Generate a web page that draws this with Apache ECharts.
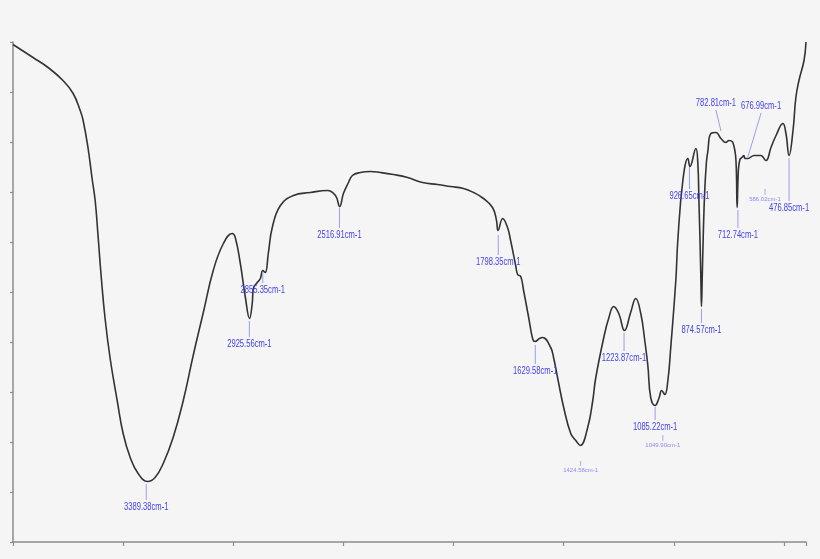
<!DOCTYPE html>
<html>
<head>
<meta charset="utf-8">
<script src="https://cdn.jsdelivr.net/npm/echarts@6/dist/echarts.min.js"></script>
<style>
html,body{margin:0;padding:0;background:#f5f5f5;}
#chart{width:820px;height:559px;}
</style>
</head>
<body>
<div id="chart"></div>
<script>
// Wavenumbers (cm-1) and transmittance (%)
var wavenumbers = [4000,3909,3841,3773,3727,3695,3682,3659,3641,3627,3614,3600,3582,3559,3527,3500,3468,3432,3389,3355,3318,3273,3227,3182,3136,3091,3045,3005,2991,2968,2945,2926,2914,2909,2891,2877,2866,2855,2841,2823,2786,2727,2650,2573,2536,2517,2500,2477,2459,2423,2377,2332,2273,2209,2141,2073,2014,1955,1909,1864,1823,1805,1798,1777,1755,1741,1718,1709,1695,1682,1659,1640,1630,1610,1596,1559,1545,1527,1500,1468,1445,1425,1391,1368,1355,1318,1296,1273,1250,1224,1196,1173,1150,1132,1118,1105,1085,1068,1055,1041,1027,1014,991,982,959,936,927,900,891,886,881,877,874.6,871,866,860,852,846,832,809,786,764,750,732,718,712.7,707,700,691,682,677,664,636,605,582,559,536,505,491,477,459,446,432,409,400];
var transmittance = [99.5,96.9,94.9,92.3,89.7,86.3,84.4,78.7,72.7,68.3,61.3,53.3,44.7,36.7,28.3,21.7,16.9,13.7,12.1,12.9,15.7,20.9,28.3,37.3,45.9,54.3,59.7,61.7,60.9,55.7,48.9,44.7,47.7,50.7,51.9,52.7,54.3,53.9,57.7,62.9,67.3,69.3,69.9,70.3,69.3,67.1,69.7,71.9,73.3,73.9,74.1,73.9,73.5,72.9,71.9,71.5,71.1,70.7,69.9,68.7,66.9,64.3,62.3,64.7,62.9,60.3,55.3,53.5,53.1,50.3,44.9,40.5,40.1,40.7,40.9,38.9,36.7,32.7,26.9,21.7,20.3,19.3,22.9,28.3,32.7,40.9,44.7,47.1,45.7,42.3,45.9,48.7,45.7,40.3,35.3,28.9,27.3,28.7,30.3,29.5,32.3,38.9,52.3,60.3,72.3,76.7,75.1,78.7,75.7,68,60,52,47.1,53,62,70,76,78,81.7,81.9,80.7,79.9,80.3,79.9,76.3,66.9,74.3,76.5,76.9,77.3,76.7,76.7,77.3,77.3,76.3,78.9,81.3,83.7,81.7,77.3,82.3,88.9,92.3,96.3,100];

// Peak annotations: label text, leader tip (wavenumber, %T) and label anchor (wavenumber, %T)
var peakLabels = ["3389.38cm-1","2925.56cm-1","2855.35cm-1","2516.91cm-1","1798.35cm-1","1629.58cm-1","1223.87cm-1","1085.22cm-1","926.65cm-1","874.57cm-1","712.74cm-1","782.81cm-1","676.99cm-1","476.85cm-1"];
var peakTipWn = [3395,2927,2866,2518,1797,1629,1226,1085,929,874.6,709,786,664,477];
var peakTipT = [11.6,44.2,54.0,66.8,61.4,39.4,41.8,27.0,75.0,46.6,66.4,82.2,77.0,76.8];
var labelWn = [3395,2927,2866,2518,1797,1629,1226,1085,929,874.6,709,809,604,477];
var labelT = [7.0,39.6,50.4,61.4,56.0,34.2,36.8,23.0,69.2,42.4,61.4,87.8,87.2,66.8];

// Faint secondary annotations
var faintLabels = ["1424.58cm-1","1049.90cm-1","586.02cm-1"];
var faintTipWn = [1423,1050,586];
var faintTipT = [16.2,21.4,70.6];
var faintLabelWn = [1423,1050,586];
var faintLabelT = [14.4,19.4,68.6];

// X-axis tick positions
var xTicks = [4000,3500,3000,2500,2000,1500,1000,500,400];

var spectrum = wavenumbers.map(function(w,i){return [w, transmittance[i]];});
var ann = peakLabels.map(function(t,i){return [peakTipWn[i],peakTipT[i],labelWn[i],labelT[i],t];});
var faint = faintLabels.map(function(t,i){return [faintTipWn[i],faintTipT[i],faintLabelWn[i],faintLabelT[i],t];});

function makeRender(fontSize, textColor, lineColor, scaleX){
  return function(params, api){
    var tip = api.coord([api.value(0), api.value(1)]);
    var lab = api.coord([api.value(2), api.value(3)]);
    var text = api.value(4);
    var gap = fontSize*0.7;
    var endY = lab[1] > tip[1] ? lab[1]-gap : lab[1]+gap;
    return {
      type:'group',
      children:[
        {type:'line', shape:{x1:tip[0],y1:tip[1],x2:lab[0],y2:endY}, style:{stroke:lineColor,lineWidth:1}},
        {type:'text', x:lab[0], y:lab[1], scaleX:scaleX, scaleY:1,
          style:{text:text, fill:textColor, font: fontSize+'px "Liberation Sans", Arial, sans-serif', align:'center', verticalAlign:'middle'}}
      ]
    };
  };
}

var chart = echarts.init(document.getElementById('chart'), null, {renderer:'canvas'});
chart.setOption({
  backgroundColor:'#f5f5f5',
  animation:false,
  grid:{left:13, right:14, top:42, bottom:17, containLabel:false},
  xAxis:{
    type:'value', inverse:true, min:400, max:4000,
    axisLine:{show:true, onZero:false, lineStyle:{color:'#8c8c8c', width:1.5}},
    axisTick:{show:true, length:4, customValues:xTicks, lineStyle:{color:'#8c8c8c', width:1.2}},
    axisLabel:{show:false},
    splitLine:{show:false}
  },
  yAxis:{
    type:'value', min:0, max:100, interval:10,
    axisLine:{show:true, onZero:false, lineStyle:{color:'#8c8c8c', width:1.5}},
    axisTick:{show:true, length:3, lineStyle:{color:'#8c8c8c', width:1.2}},
    axisLabel:{show:false},
    splitLine:{show:false}
  },
  series:[
    {
      type:'line', data:spectrum, showSymbol:false, smooth:0.45,
      lineStyle:{color:'#333333', width:1.6}, z:3
    },
    {
      type:'custom', data:ann, clip:false, z:4,
      encode:{x:[0,2], y:[1,3]},
      renderItem: makeRender(10, '#4343ee', '#9c9cf0', 0.76)
    },
    {
      type:'custom', data:faint, clip:false, z:4,
      encode:{x:[0,2], y:[1,3]},
      renderItem: makeRender(6, '#8a8af0', '#a8a8f2', 1.0)
    }
  ]
});
</script>
</body>
</html>
